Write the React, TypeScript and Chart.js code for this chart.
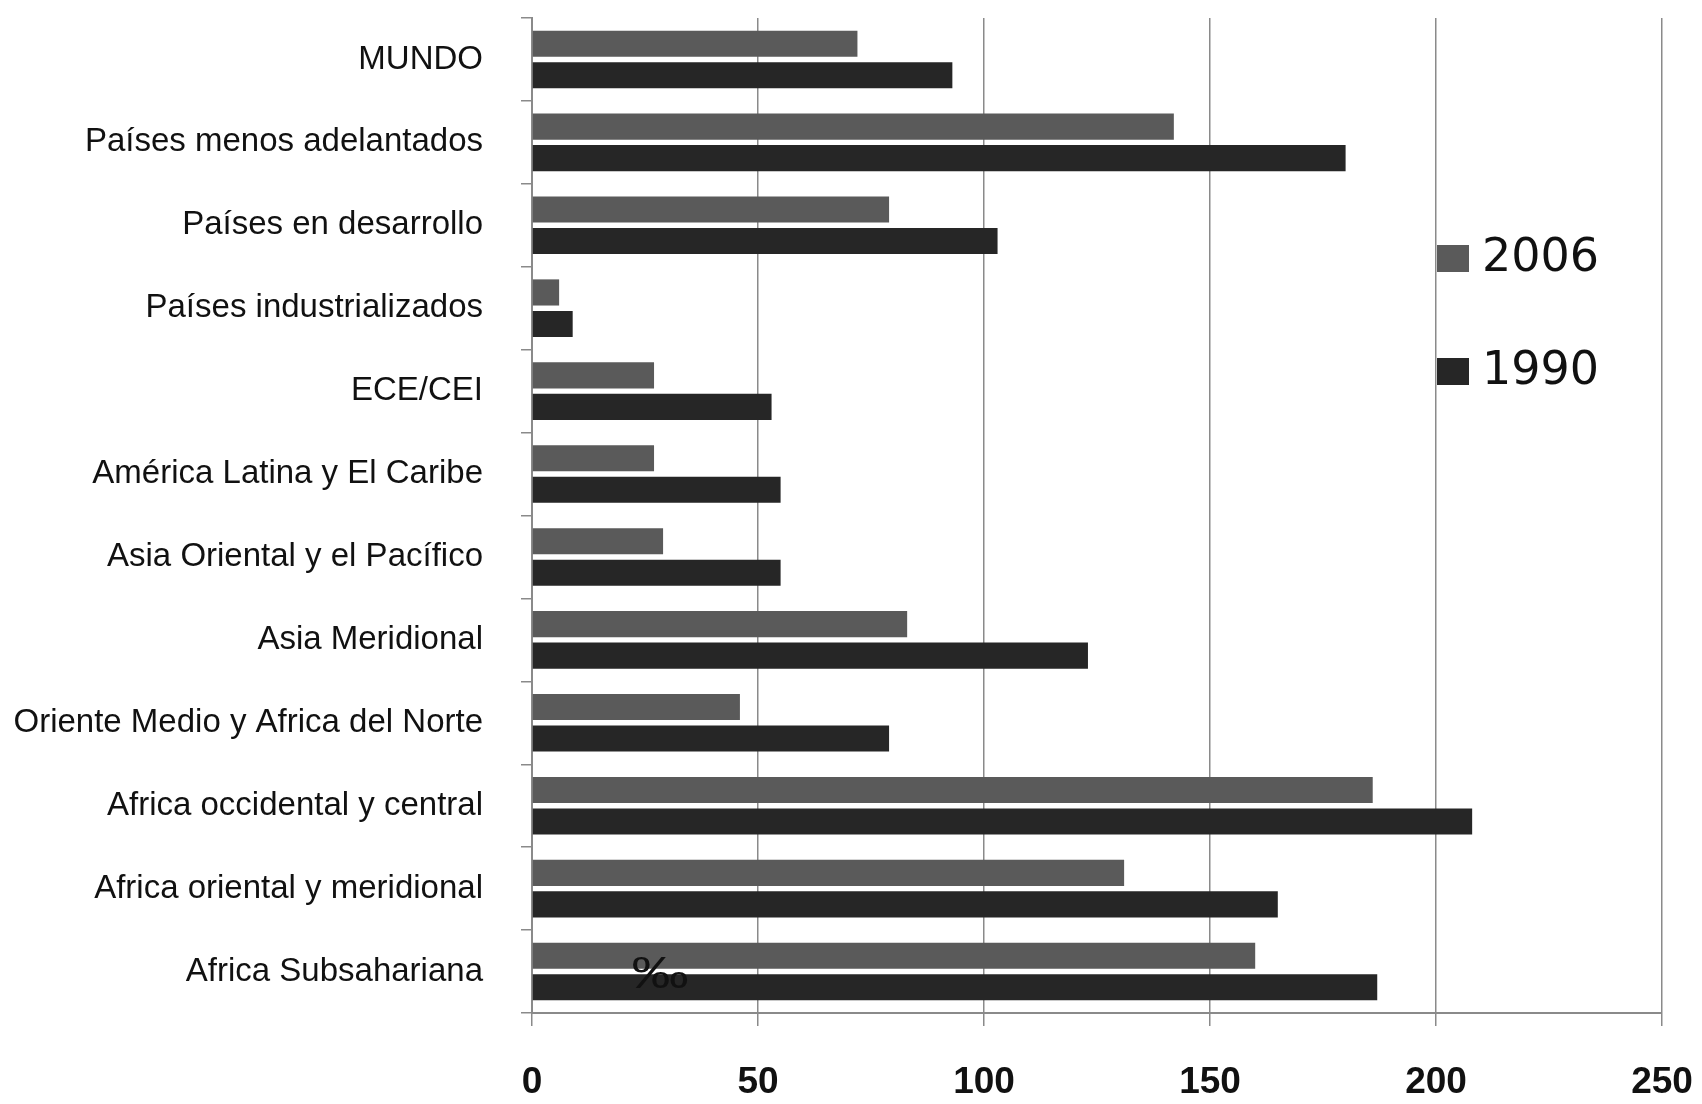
import React, { useEffect, useRef } from "react";
import { Chart, registerables } from "chart.js";

Chart.register(...registerables);

const categories = [
  "MUNDO",
  "Países menos adelantados",
  "Países en desarrollo",
  "Países industrializados",
  "ECE/CEI",
  "América Latina y El Caribe",
  "Asia Oriental y el Pacífico",
  "Asia Meridional",
  "Oriente Medio y Africa del Norte",
  "Africa occidental y central",
  "Africa oriental y meridional",
  "Africa Subsahariana",
];

const values2006 = [72, 142, 79, 6, 27, 27, 29, 83, 46, 186, 131, 160];
const values1990 = [93, 180, 103, 9, 53, 55, 55, 123, 79, 208, 165, 187];

const seriesLabels = ["2006", "1990"];
const seriesColors = ["#5a5a5a", "#262626"];
const xMin = 0;
const xMax = 250;
const xStep = 50;
const unitLabel = "‰";

export default function App() {
  const ref = useRef<HTMLCanvasElement>(null);

  useEffect(() => {
    if (!ref.current) return;

    const overlayPlugin = {
      id: "overlay",
      afterDatasetsDraw(chart: any) {
        const ctx = chart.ctx;
        const xs = chart.scales.x;
        const ys = chart.scales.y;
        ctx.save();
        ctx.fillStyle = "#111";
        ctx.font = "44px 'Liberation Sans', Arial";
        ctx.textAlign = "left";
        ctx.textBaseline = "middle";
        ctx.translate(xs.getPixelForValue(22), ys.getPixelForValue(categories.length - 1) + 4);
        ctx.scale(1.3, 1);
        ctx.fillText(unitLabel, 0, 0);
        ctx.restore();
      },
      afterDraw(chart: any) {
        const ctx = chart.ctx;
        const xs = chart.scales.x;
        const left = xs.getPixelForValue(200) + 1;
        const tops = [245, 358];
        ctx.save();
        seriesLabels.forEach((lab, i) => {
          ctx.fillStyle = seriesColors[i];
          ctx.fillRect(left, tops[i], 32, 27);
          ctx.fillStyle = "#111";
          ctx.font = "46px 'DejaVu Sans', Verdana, sans-serif";
          ctx.textAlign = "left";
          ctx.textBaseline = "middle";
          ctx.fillText(lab, left + 45, tops[i] + 14);
        });
        ctx.restore();
      },
    };

    const chart = new Chart(ref.current, {
      type: "bar",
      data: {
        labels: categories,
        datasets: [
          {
            label: seriesLabels[0],
            data: values2006,
            backgroundColor: seriesColors[0],
            borderWidth: 0,
            categoryPercentage: 0.76,
            barPercentage: 0.83,
          },
          {
            label: seriesLabels[1],
            data: values1990,
            backgroundColor: seriesColors[1],
            borderWidth: 0,
            categoryPercentage: 0.76,
            barPercentage: 0.83,
          },
        ],
      },
      options: {
        indexAxis: "y",
        responsive: false,
        animation: false,
        devicePixelRatio: 1,
        layout: { padding: { top: 18, right: 40, bottom: 0, left: 0 } },
        plugins: {
          legend: { display: false },
          tooltip: { enabled: false },
        },
        scales: {
          x: {
            min: xMin,
            max: xMax,
            ticks: {
              stepSize: xStep,
              color: "#111",
              padding: 35,
              font: { family: "'Liberation Sans', Arial", size: 37, weight: "bold" },
            },
            grid: {
              color: "#8a8a8a",
              lineWidth: 1.5,
              drawTicks: true,
              tickLength: 13,
            },
            border: { display: true, color: "#8a8a8a", width: 2 },
            afterFit(scale: any) {
              scale.height = 91;
              scale.paddingLeft = 0;
              scale.paddingRight = 0;
            },
          },
          y: {
            ticks: {
              color: "#111",
              padding: 38,
              font: { family: "'Liberation Sans Narrow', 'Liberation Sans', Arial", size: 33 },
            },
            grid: {
              display: true,
              drawOnChartArea: false,
              drawTicks: true,
              tickLength: 11,
              color: "#8a8a8a",
              lineWidth: 1.5,
              offset: true,
            },
            border: { display: true, color: "#8a8a8a", width: 2 },
            afterFit(scale: any) {
              scale.width = 532;
              scale.paddingTop = 0;
              scale.paddingBottom = 0;
            },
          },
        },
      },
      plugins: [overlayPlugin],
    } as any);

    return () => chart.destroy();
  }, []);

  return (
    <div style={{ position: "fixed", left: 0, top: 0, width: 1702, height: 1104, background: "#fff" }}>
      <canvas ref={ref} width={1702} height={1104} style={{ display: "block" }} />
    </div>
  );
}
